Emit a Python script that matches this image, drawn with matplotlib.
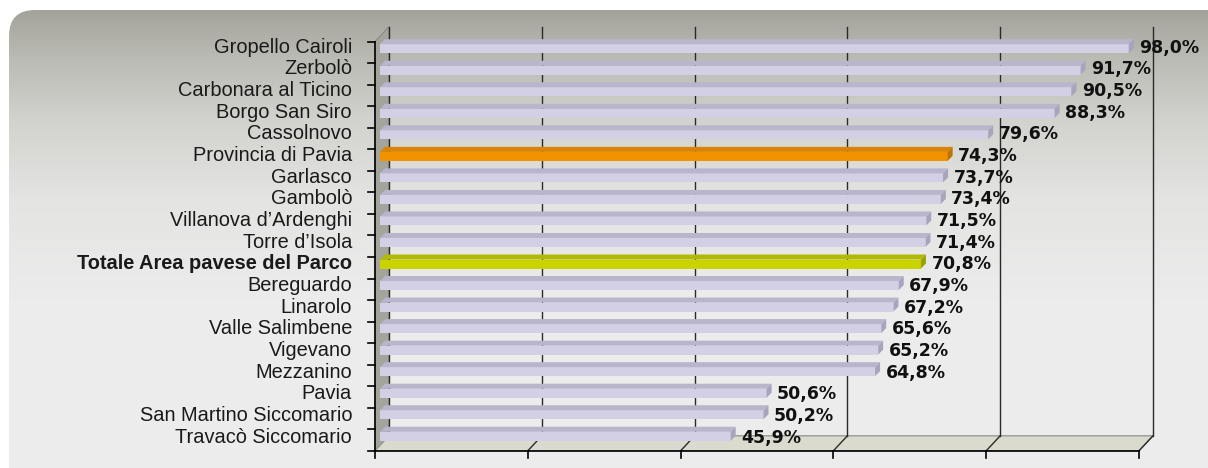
import numpy as np
import matplotlib.pyplot as plt
from matplotlib.patches import Polygon, FancyBboxPatch

# Data
categories = ["Gropello Cairoli", "Zerbolò", "Carbonara al Ticino", "Borgo San Siro",
              "Cassolnovo", "Provincia di Pavia", "Garlasco", "Gambolò",
              "Villanova d’Ardenghi", "Torre d’Isola", "Totale Area pavese del Parco",
              "Bereguardo", "Linarolo", "Valle Salimbene", "Vigevano", "Mezzanino",
              "Pavia", "San Martino Siccomario", "Travacò Siccomario"]
values = [98.0, 91.7, 90.5, 88.3, 79.6, 74.3, 73.7, 73.4, 71.5, 71.4, 70.8,
          67.9, 67.2, 65.6, 65.2, 64.8, 50.6, 50.2, 45.9]
x_ticks = [0, 20, 40, 60, 80, 100]
special = {"Provincia di Pavia": "orange", "Totale Area pavese del Parco": "yellow"}

# colours: front, top, end
bar_colors = {
    "normal": ("#d3d0e6", "#b9b5cc", "#a8a4be"),
    "orange": ("#f39200", "#d98300", "#bf7300"),
    "yellow": ("#c9d300", "#b1ba00", "#9aa200"),
}

W, H = 1208, 468
fig = plt.figure(figsize=(W / 100, H / 100), dpi=100)

# background rounded box with gradient
bg = fig.add_axes([0, 0, 1, 1])
bg.set_xlim(0, W)
bg.set_ylim(H, 0)
bg.axis("off")
box = FancyBboxPatch((9, 10), W + 30, H + 30,
                     boxstyle="round,pad=0,rounding_size=26",
                     facecolor="none", edgecolor="none")
bg.add_patch(box)
rows = np.arange(H)
stops_y = [0, 10, 60, 120, 200, 300, H]
stops_c = np.array([[163, 163, 155], [163, 163, 155], [188, 188, 182],
                    [210, 210, 206], [228, 229, 227], [235, 236, 235],
                    [236, 237, 236]]) / 255
grad = np.stack([np.interp(rows, stops_y, stops_c[:, k]) for k in range(3)], axis=1)
grad = grad[:, None, :]
img = bg.imshow(grad, extent=[0, W, H, 0], aspect="auto", zorder=0)
img.set_clip_path(box)

# main axes (front plane of the 3D box)
y_top, y_bot = 41.7, 450.8
ax = fig.add_axes([375 / W, (H - y_bot) / H, 764 / W, (y_bot - y_top) / H])
n = len(categories)
ax.set_xlim(0, 100)
ax.set_ylim(n, 0)
ax.axis("off")

sx = 100 / 764
sy = n / (y_bot - y_top)
dx, dy = 14 * sx, 15 * sy

# side wall and floor
ax.add_patch(Polygon([(0, 0), (dx, -dy), (dx, n - dy), (0, n)],
                     facecolor="#a4a39c", edgecolor="#8a8982", lw=0.8, clip_on=False, zorder=1))
ax.add_patch(Polygon([(0, n), (100, n), (100 + dx, n - dy), (dx, n - dy)],
                     facecolor="#dbdacf", edgecolor="#9a9a94", lw=1, clip_on=False, zorder=1))

# gridlines on back wall
for t in x_ticks:
    ax.plot([t + dx, t + dx], [-dy, n - dy], color="#2a2a2a", lw=1, clip_on=False, zorder=2)
for t in x_ticks[1:]:
    ax.plot([t, t + dx], [n, n - dy], color="#2a2a2a", lw=1, clip_on=False, zorder=2)

# front axes
ax.plot([0, 0], [0, n], color="black", lw=1.2, clip_on=False, zorder=5)
ax.plot([0, 100], [n, n], color="black", lw=1.2, clip_on=False, zorder=5)
for k in range(n + 1):
    ax.plot([-7 * sx, 0], [k, k], color="black", lw=1.2, clip_on=False, zorder=5)
for t in x_ticks:
    ax.plot([t, t], [n, n + 7 * sy], color="black", lw=1.2, clip_on=False, zorder=5)

# bars
ox, oy = 5 * sx, 5 * sy
for i, (cat, v) in enumerate(zip(categories, values)):
    front, topc, endc = bar_colors[special.get(cat, "normal")]
    yt = i + 2.5 * sy
    yb = i + 11.5 * sy
    ax.add_patch(Polygon([(ox, yt), (v + ox, yt), (v + ox, yb), (ox, yb)],
                         facecolor=front, edgecolor="none", clip_on=False, zorder=3))
    ax.add_patch(Polygon([(ox, yt), (v + ox, yt), (v + 2 * ox, yt - oy), (2 * ox, yt - oy)],
                         facecolor=topc, edgecolor="none", clip_on=False, zorder=3))
    ax.add_patch(Polygon([(v + ox, yt), (v + 2 * ox, yt - oy), (v + 2 * ox, yb - oy), (v + ox, yb)],
                         facecolor=endc, edgecolor="none", clip_on=False, zorder=3))

    base = i * 1.0065 + 11 * sy
    ax.text(-23 * sx, base, cat, ha="right", va="baseline", fontsize=14.4,
            family="Liberation Sans", color="#1a1a1a",
            fontweight="bold" if cat.startswith("Totale") else "normal", zorder=6)
    label = f"{v:.1f}%".replace(".", ",")
    ax.text(v + 15.5 * sx, base, label, ha="left", va="baseline", fontsize=12.5,
            family="DejaVu Sans", fontweight="bold", color="#111111", zorder=6)

fig.savefig("out.png", dpi=100)
